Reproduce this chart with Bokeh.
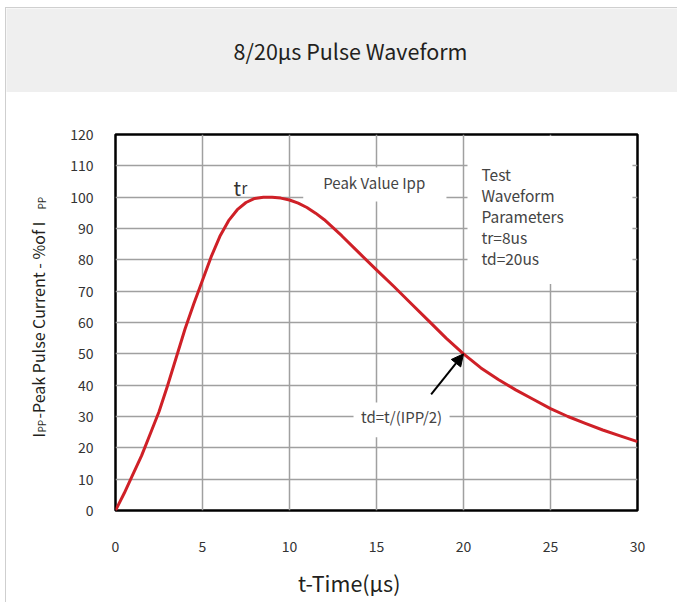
import math
from bokeh.plotting import figure
from bokeh.models import (Range1d, Label, BoxAnnotation, Arrow, NormalHead,
                          FixedTicker)
from bokeh.layouts import column, row
from bokeh.embed import file_html
from bokeh.resources import INLINE

# ---------------- data ----------------
TITLE = "8/20μs Pulse Waveform"
X_LABEL = "t-Time(μs)"
Y_LABEL_PARTS = ["I", "PP", "-Peak Pulse Current - %of I", "PP"]

time_us = [0, 0.5, 1, 1.5, 2, 2.5, 3, 3.5, 4, 4.5, 5, 5.5, 6, 6.5, 7, 7.5,
           8, 8.5, 9, 9.5, 10, 10.5, 11, 11.5, 12, 12.5, 13, 14, 15, 16, 17,
           18, 19, 20, 21, 22, 23, 24, 25, 26, 27, 28, 29, 30]
current_pct = [0, 5.5, 11.5, 17.5, 24.5, 31.5, 40, 49, 58, 66, 73.5, 81,
               87.5, 92.5, 96, 98.3, 99.6, 100, 100, 99.7, 99.1, 98.1, 96.7,
               94.9, 92.8, 90.3, 87.7, 82.2, 76.8, 71.5, 66, 60.5, 55, 50,
               45.5, 41.8, 38.5, 35.5, 32.5, 30, 27.8, 25.7, 23.8, 22]

x_ticks = [0, 5, 10, 15, 20, 25, 30]
y_ticks = [0, 10, 20, 30, 40, 50, 60, 70, 80, 90, 100, 110, 120]

TR_TEXT = ("t", "r")
PEAK_TEXT = "Peak Value Ipp"
PARAM_LINES = ["Test", "Waveform", "Parameters", "tr=8us", "td=20us"]
TD_TEXT = "td=t/(IPP/2)"
TD_POINT = (20, 50)

FONT = "Noto Sans CJK SC"
TXT = "#444444"
DARK = "#231f20"


def blank(w, h, bg="white"):
    f = figure(width=w, height=h, x_range=Range1d(0, w), y_range=Range1d(0, h),
               output_backend="svg", toolbar_location=None,
               x_axis_location=None, y_axis_location=None, min_border=0)
    f.grid.visible = False
    f.outline_line_color = None
    f.background_fill_color = bg
    f.border_fill_color = bg
    return f


# ---------------- title band ----------------
band = blank(671, 84, "#efefef")
band.add_layout(Label(x=344, y=42, text=TITLE, text_align="center",
                      text_baseline="middle", text_font=FONT,
                      text_font_size="21.5px", text_color=DARK))

# ---------------- chart ----------------
p = figure(width=621, height=468, x_range=Range1d(0, 30), y_range=Range1d(0, 120),
           output_backend="svg", toolbar_location=None,
           min_border_left=59, min_border_right=40, min_border_top=42,
           min_border_bottom=50)
p.background_fill_color = "white"
p.border_fill_color = "white"
p.outline_line_color = "black"
p.outline_line_width = 2.5
p.outline_line_alpha = 1

p.xaxis.ticker = FixedTicker(ticks=x_ticks)
p.yaxis.ticker = FixedTicker(ticks=y_ticks)
for ax in (p.xaxis, p.yaxis):
    ax.axis_line_color = None
    ax.major_tick_line_color = None
    ax.minor_tick_line_color = None
    ax.major_label_text_font = FONT
    ax.major_label_text_font_size = "14px"
    ax.major_label_text_color = "#333333"
p.xaxis.major_label_standoff = 24
p.yaxis.major_label_standoff = 16

p.grid.grid_line_color = "#a0a0a0"
p.grid.grid_line_width = 1.5

# white boxes behind annotation texts (break the grid like the original)
for (l, r, b, t) in [(20.23, 29.71, 72.3, 119.5),
                     (10.79, 19.02, 98.65, 109.5),
                     (13.68, 19.2, 23.4, 34.5)]:
    p.add_layout(BoxAnnotation(left=l, right=r, bottom=b, top=t,
                               fill_color="white", fill_alpha=1,
                               line_color=None, level="underlay"))

p.line(time_us, current_pct, line_color="#cf2027", line_width=3,
       line_join="round")

# annotations
p.add_layout(Label(x=6.78, y=103.0, text=TR_TEXT[0], text_font=FONT,
                   text_font_size="20px", text_color="#333333",
                   text_baseline="alphabetic"))
p.add_layout(Label(x=7.24, y=103.0, text=TR_TEXT[1], text_font=FONT,
                   text_font_size="15px", text_color="#333333",
                   text_baseline="alphabetic"))
p.add_layout(Label(x=14.87, y=104.7, text=PEAK_TEXT, text_font=FONT,
                   text_font_size="15px", text_color=TXT,
                   text_align="center", text_baseline="middle"))
for i, line in enumerate(PARAM_LINES):
    p.add_layout(Label(x=21.03, y=107.5 - i * 6.7, text=line, text_font=FONT,
                       text_font_size="15.5px", text_color=TXT,
                       text_baseline="alphabetic"))
p.add_layout(Label(x=16.44, y=29.9, text=TD_TEXT, text_font=FONT,
                   text_font_size="15px", text_color=TXT,
                   text_align="center", text_baseline="middle"))
p.add_layout(Arrow(end=NormalHead(size=12, fill_color="black", line_color="black"),
                   x_start=18.14, y_start=37.1, x_end=TD_POINT[0], y_end=TD_POINT[1],
                   line_color="black", line_width=2))

# ---------------- x axis title ----------------
xlab = blank(621, 42)
xlab.add_layout(Label(x=278, y=20, text=X_LABEL, text_font=FONT,
                      text_font_size="21.5px", text_color=DARK,
                      text_align="center", text_baseline="middle"))

# ---------------- y axis title (with subscripts) ----------------
ylab = blank(50, 510)
ylab_pos = [(31, 165, "16px"), (35, 170, "10px"),
            (31, 184, "16px"), (35, 393, "10px")]
for (xx, yy, fs), txt in zip(ylab_pos, Y_LABEL_PARTS):
    ylab.add_layout(Label(x=xx, y=yy, text=txt, angle=math.pi / 2,
                          text_font=FONT, text_font_size=fs, text_color=DARK,
                          text_baseline="alphabetic", text_align="left"))

layout = column(band, row(ylab, column(p, xlab)),
                margin=(7, 0, 0, 5),
                styles={"border-top": "1px solid #cfcfcf",
                        "border-left": "1px solid #cfcfcf"})
open("out.html", "w").write(file_html(layout, INLINE))
